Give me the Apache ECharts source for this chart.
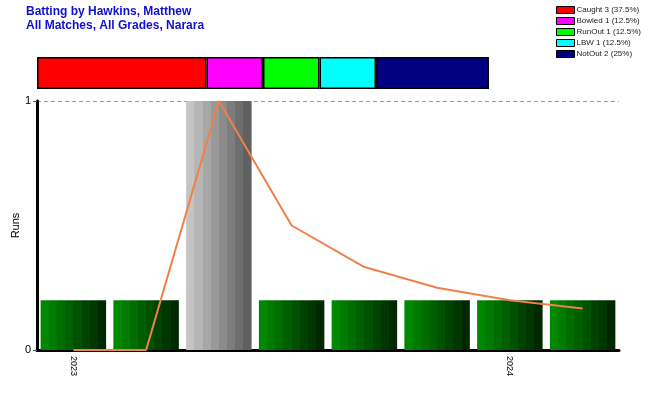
<!DOCTYPE html>
<html><head><meta charset="utf-8">
<script src="https://cdn.jsdelivr.net/npm/echarts@6/dist/echarts.min.js"></script>
<style>html,body{margin:0;padding:0;background:#fff}#c{width:650px;height:400px}</style>
</head><body><div id="c"></div>
<script>
const categories = ['2023','','','','','','2024',''];
const barValues = [0.2,0.2,1,0.2,0.2,0.2,0.2,0.2];
const barKinds = ['g','g','w','g','g','g','g','g'];
const avgLine = [0,0,1,0.5,0.333,0.25,0.2,0.167];
const dismissalNames = ['Caught 3 (37.5%)','Bowled 1 (12.5%)','RunOut 1 (12.5%)','LBW 1 (12.5%)','NotOut 2 (25%)'];
const dismissalCounts = [3,1,1,1,2];
const dismissalColors = ['#ff0000','#ff00ff','#00ff00','#00ffff','#000080'];
const yTicks = [0,1];

function banded(c0, c1, n){
  const p = s => [parseInt(s.slice(1,3),16),parseInt(s.slice(3,5),16),parseInt(s.slice(5,7),16)];
  const a=p(c0), b=p(c1); const stops=[];
  for(let i=0;i<n;i++){
    const t=i/(n-1);
    const col='rgb('+a.map((v,k)=>Math.round(v+(b[k]-v)*t)).join(',')+')';
    stops.push({offset:i/n,color:col});
    stops.push({offset:(i+1)/n-0.0001,color:col});
  }
  return {type:'linear',x:0,y:0,x2:1,y2:0,colorStops:stops};
}
const greenFill = banded('#008800','#002800',8);
const greyFill = banded('#c4c4c4','#606060',8);

const chart = echarts.init(document.getElementById('c'));
const stripSeries = dismissalNames.map((n,i)=>({
  name:n, type:'bar', stack:'d', xAxisIndex:1, yAxisIndex:1,
  data:[dismissalCounts[i]], barWidth:32,
  itemStyle:{color:dismissalColors[i], borderColor:'#000', borderWidth:1.5},
  silent:true
}));
chart.setOption({
  animation:false,
  backgroundColor:'#fff',
  title:{text:'Batting by Hawkins, Matthew\nAll Matches, All Grades, Narara', left:21, top:0,
    textStyle:{color:'#1010d0', fontFamily:'Arial, Liberation Sans', fontSize:12, fontWeight:'bold', lineHeight:14}},
  legend:{orient:'vertical', left:551, top:1, itemWidth:18, itemHeight:7, itemGap:3,
    icon:'rect', data:dismissalNames, selectedMode:false,
    textStyle:{fontFamily:'Arial, Liberation Sans', fontSize:8, color:'#222', padding:[0,0,0,-3]},
    itemStyle:{borderColor:'#000', borderWidth:1}},
  grid:[{left:37, right:31, top:101, bottom:50, outerBoundsMode:'none'},
        {left:37, top:57, width:452, height:32, outerBoundsMode:'none'}],
  xAxis:[{type:'category', data:categories, gridIndex:0, boundaryGap:true,
      axisLine:{lineStyle:{color:'#000', width:3}},
      axisTick:{alignWithLabel:true, length:5, lineStyle:{color:'#555'}},
      axisLabel:{interval:0, rotate:-90, fontFamily:'Arial, Liberation Sans', fontSize:9, color:'#000', margin:6}},
    {type:'value', gridIndex:1, min:0, max:8, show:false}],
  yAxis:[{type:'value', gridIndex:0, min:0, max:1, interval:1,
      name:'Runs', nameLocation:'middle', nameGap:16, nameMoveOverlap:false,
      nameTextStyle:{fontFamily:'Arial, Liberation Sans', fontSize:11, color:'#000'},
      axisLine:{show:true, lineStyle:{color:'#000', width:3}},
      axisTick:{show:true, length:4, lineStyle:{color:'#555'}},
      axisLabel:{fontFamily:'Arial, Liberation Sans', fontSize:11, color:'#000', margin:6,
        formatter:v=>yTicks.includes(v)?String(v):''},
      splitLine:{show:true, lineStyle:{color:'#999', type:[4,3], width:1}}},
    {type:'category', gridIndex:1, data:['s'], show:false}],
  series:[
    {type:'bar', data:barValues.map((v,i)=>({value:v, itemStyle:{color: barKinds[i]==='g'?greenFill:greyFill}})),
     barCategoryGap:'10%', z:2},
    {type:'line', data:avgLine, symbol:'none', z:3,
     lineStyle:{color:'#f0804a', width:2}, itemStyle:{color:'#f0804a'}},
    ...stripSeries
  ]
});
</script></body></html>
